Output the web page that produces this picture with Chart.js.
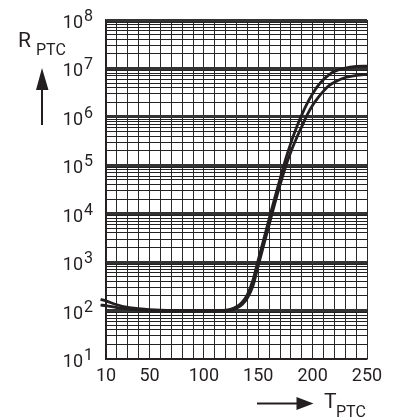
<!DOCTYPE html>
<html>
<head>
<meta charset="utf-8">
<script src="https://cdn.jsdelivr.net/npm/chart.js@4.4.1/dist/chart.umd.min.js"></script>
<style>
  html, body { margin: 0; padding: 0; background: #fff; }
  #chart { display: block; }
</style>
</head>
<body>
<canvas id="chart" width="398" height="419"></canvas>
<script>
// temperatures (°C) the two curves were read at
const temps = [5, 10, 20, 30, 40, 50, 60, 80, 100, 115, 120, 125, 130, 135, 140, 145, 150, 155,
  160, 165, 170, 175, 180, 185, 190, 195, 200, 205, 210, 215, 220, 230, 240, 250];

// resistance (ohm), upper / lower limit curve
const rUpper = [170, 158, 132, 117, 110, 105, 102, 100, 99, 100, 102, 107, 120, 148, 214, 417, 1.12e3, 2.95e3,
  7.8e3, 2.04e4, 5.2e4, 1.29e5, 2.9e5, 5.9e5, 1.1e6, 1.9e6, 3.0e6, 4.4e6, 5.9e6, 7.4e6, 8.7e6, 1.02e7, 1.1e7, 1.12e7];
const rLower = [130, 126, 115, 107, 102, 100, 99, 98, 98, 99, 100, 102, 112, 132, 182, 316, 850, 2.24e3,
  5.9e3, 1.55e4, 3.9e4, 9.1e4, 1.9e5, 3.55e5, 6.3e5, 1.1e6, 1.74e6, 2.5e6, 3.4e6, 4.4e6, 5.2e6, 6.5e6, 7.2e6, 7.6e6];

const xTickLabels = [10, 50, 100, 150, 200, 250];
const yExponents = [1, 2, 3, 4, 5, 6, 7, 8];

const ink = '#231f20';

function isDecade(v) {
  const l = Math.log10(v);
  return Math.abs(l - Math.round(l)) < 1e-9;
}

// tick labels, axis names and arrows
const labelPlugin = {
  id: 'ptcLabels',
  afterDraw(chart) {
    const ctx = chart.ctx;
    const xs = chart.scales.x;
    const ys = chart.scales.y;
    ctx.save();
    ctx.fillStyle = ink;
    ctx.strokeStyle = ink;
    ctx.textBaseline = 'alphabetic';

    yExponents.forEach(e => {
      const y = ys.getPixelForValue(Math.pow(10, e));
      ctx.font = '18px Roboto';
      ctx.textAlign = 'right';
      ctx.fillText('10', 83, y + 8);
      ctx.font = '16px Roboto';
      ctx.textAlign = 'left';
      ctx.fillText(String(e), 84, y + 1);
    });

    ctx.font = '18px Roboto';
    ctx.textAlign = 'center';
    xTickLabels.forEach(t => {
      ctx.fillText(String(t), xs.getPixelForValue(t), 381);
    });

    // axis names
    ctx.textAlign = 'left';
    ctx.font = '21px Roboto';
    ctx.fillText('R', 18, 47);
    ctx.fillText('T', 324, 408);
    ctx.font = '16px Roboto';
    ctx.fillText('PTC', 36, 55);
    ctx.fillText('PTC', 336, 417);

    // arrows
    ctx.lineWidth = 2;
    ctx.beginPath();
    ctx.moveTo(42, 125);
    ctx.lineTo(42, 86);
    ctx.moveTo(257, 403.5);
    ctx.lineTo(299, 403.5);
    ctx.stroke();
    ctx.beginPath();
    ctx.moveTo(42, 68);
    ctx.lineTo(36, 90);
    ctx.lineTo(48.5, 90);
    ctx.closePath();
    ctx.moveTo(313.5, 403.5);
    ctx.lineTo(296.5, 397);
    ctx.lineTo(296.5, 410);
    ctx.closePath();
    ctx.fill();
    ctx.restore();
  }
};

const toPoints = vals => temps.map((t, i) => ({ x: t, y: vals[i] }));

new Chart(document.getElementById('chart'), {
  type: 'line',
  data: {
    datasets: [
      { data: toPoints(rUpper), borderColor: ink, borderWidth: 2.8, pointRadius: 0,
        cubicInterpolationMode: 'monotone', clip: false },
      { data: toPoints(rLower), borderColor: ink, borderWidth: 2.8, pointRadius: 0,
        cubicInterpolationMode: 'monotone', clip: false }
    ]
  },
  options: {
    responsive: false,
    animation: false,
    devicePixelRatio: 1,
    layout: { padding: { left: 106, right: 31, top: 20, bottom: 60 } },
    plugins: { legend: { display: false }, tooltip: { enabled: false } },
    scales: {
      x: {
        type: 'linear',
        min: 10,
        max: 250,
        afterBuildTicks(scale) {
          const t = [];
          for (let v = 10; v <= 250; v += 10) t.push({ value: v });
          scale.ticks = t;
        },
        ticks: { display: false },
        grid: { drawTicks: false, color: '#2a2a2a', lineWidth: 1 },
        border: { display: true, color: ink, width: 1.5 }
      },
      y: {
        type: 'logarithmic',
        min: 10,
        max: 1e8,
        afterBuildTicks(scale) {
          const t = [];
          for (let e = 1; e < 8; e++) {
            for (let s = 1; s < 10; s++) t.push({ value: s * Math.pow(10, e) });
          }
          t.push({ value: 1e8 });
          scale.ticks = t;
        },
        ticks: { display: false },
        grid: {
          drawTicks: false,
          color: c => (c.tick && isDecade(c.tick.value) && c.tick.value > 10) ? '#333' : '#222',
          lineWidth: c => (c.tick && isDecade(c.tick.value) && c.tick.value > 10) ? 3 : 1
        },
        border: { display: true, color: ink, width: 1.5 }
      }
    }
  },
  plugins: [labelPlugin]
});
</script>
</body>
</html>
